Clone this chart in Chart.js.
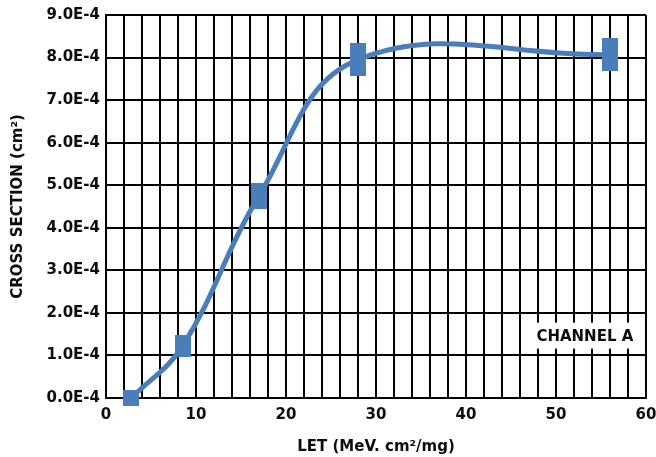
<!DOCTYPE html>
<html>
<head>
<meta charset="utf-8">
<script src="https://cdn.jsdelivr.net/npm/chart.js@4/dist/chart.umd.min.js"></script>
<style>
  html, body { margin: 0; padding: 0; background: #fff; }
  #wrap { width: 656px; height: 457px; }
</style>
</head>
<body>
<div id="wrap"><canvas id="c" width="656" height="457"></canvas></div>
<script>
  "use strict";

  // LET values (MeV·cm²/mg) and measured cross sections (cm²)
  const letValues = [2.8, 8.5, 17, 28, 56];
  const crossSection = [0.0e-4, 1.22e-4, 4.75e-4, 7.95e-4, 8.07e-4];
  const xTickStep = 2;
  const xLabelEvery = 10;
  const yTickStep = 1e-4;
  const channelLabel = "CHANNEL A";

  // marker heights differ per point in the original (px); width is fixed
  const markerW = 16;
  const markerH = [16, 22, 26, 33, 33];

  const BLUE = "#4a7ebb";
  const INK = "#0d0d0d";
  const FONT = "'DejaVu Sans', sans-serif";

  function makeMarker(w, h) {
    const cv = document.createElement("canvas");
    cv.width = w;
    cv.height = h;
    const g = cv.getContext("2d");
    g.fillStyle = BLUE;
    g.fillRect(0, 0, w, h);
    return cv;
  }
  const markers = markerH.map((h) => makeMarker(markerW, h));

  // white box with the channel name, placed in value space
  const channelBox = {
    id: "channelBox",
    afterDraw(chart) {
      const { ctx, scales: { x, y } } = chart;
      const left = x.getPixelForValue(46.3);
      const right = x.getPixelForValue(60) - 1;
      const top = y.getPixelForValue(1.77e-4);
      const bottom = y.getPixelForValue(1.16e-4);
      ctx.save();
      ctx.fillStyle = "#fff";
      ctx.fillRect(left, top, right - left, bottom - top);
      ctx.fillStyle = INK;
      ctx.font = "bold 15px " + FONT;
      ctx.textAlign = "center";
      ctx.textBaseline = "middle";
      ctx.fillText(channelLabel, (left + right) / 2 + 1, (top + bottom) / 2 + 1);
      ctx.restore();
    },
  };

  new Chart(document.getElementById("c"), {
    type: "line",
    data: {
      datasets: [
        {
          data: letValues.map((v, i) => ({ x: v, y: crossSection[i] })),
          borderColor: BLUE,
          backgroundColor: BLUE,
          borderWidth: 5,
          tension: 0.4,
          pointStyle: (ctx) => markers[ctx.dataIndex] || markers[0],
          pointRadius: 8,
          pointHoverRadius: 8,
          clip: false,
        },
      ],
    },
    options: {
      responsive: false,
      animation: false,
      events: [],
      layout: { padding: { top: 15, right: 10, left: 0, bottom: 0 } },
      plugins: { legend: { display: false }, tooltip: { enabled: false } },
      scales: {
        x: {
          type: "linear",
          min: 0,
          max: 60,
          afterFit: (s) => {
            s.height = 59;
            s.paddingLeft = 0;
            s.paddingRight = 0;
          },
          ticks: {
            stepSize: xTickStep,
            autoSkip: false,
            maxRotation: 0,
            padding: 8,
            color: INK,
            font: { family: FONT, size: 15, weight: "bold" },
            callback: (v) => (v % xLabelEvery === 0 ? String(v) : ""),
          },
          grid: { color: "#000", lineWidth: 2, drawTicks: false },
          border: { color: "#000", width: 2 },
          title: {
            display: true,
            text: "LET (MeV. cm²/mg)",
            color: INK,
            font: { family: FONT, size: 15, weight: "bold" },
            padding: { top: 0, bottom: 1 },
          },
        },
        y: {
          type: "linear",
          min: 0,
          max: 9e-4,
          afterFit: (s) => {
            s.width = 106;
            s.paddingTop = 0;
            s.paddingBottom = 0;
          },
          ticks: {
            stepSize: yTickStep,
            padding: 6,
            color: INK,
            font: { family: FONT, size: 15, weight: "bold" },
            callback: (v) => (v * 1e4).toFixed(1) + "E-4",
          },
          grid: { color: "#000", lineWidth: 2, drawTicks: false },
          border: { color: "#000", width: 2 },
          title: {
            display: true,
            text: "CROSS SECTION (cm²)",
            color: INK,
            font: { family: FONT, size: 15, weight: "bold" },
            padding: { top: 9, bottom: 0 },
          },
        },
      },
    },
    plugins: [
      channelBox,
      {
        // pin the plot area to the reference's 106..646 × 15..398 box
        id: "pinArea",
        afterLayout(chart) {
          const a = chart.chartArea;
          const x = chart.scales.x;
          const y = chart.scales.y;
          a.left = 106; a.right = 646; a.top = 15; a.bottom = 398;
          a.width = a.right - a.left; a.height = a.bottom - a.top;
          x.left = a.left; x.right = a.right; x.width = a.width;
          x.top = a.bottom; x.bottom = 457; x.height = 59;
          y.left = 0; y.right = a.left; y.width = a.left;
          y.top = a.top; y.bottom = a.bottom; y.height = a.height;
          x.configure();
          y.configure();
        },
      },
    ],
  });
</script>
</body>
</html>
